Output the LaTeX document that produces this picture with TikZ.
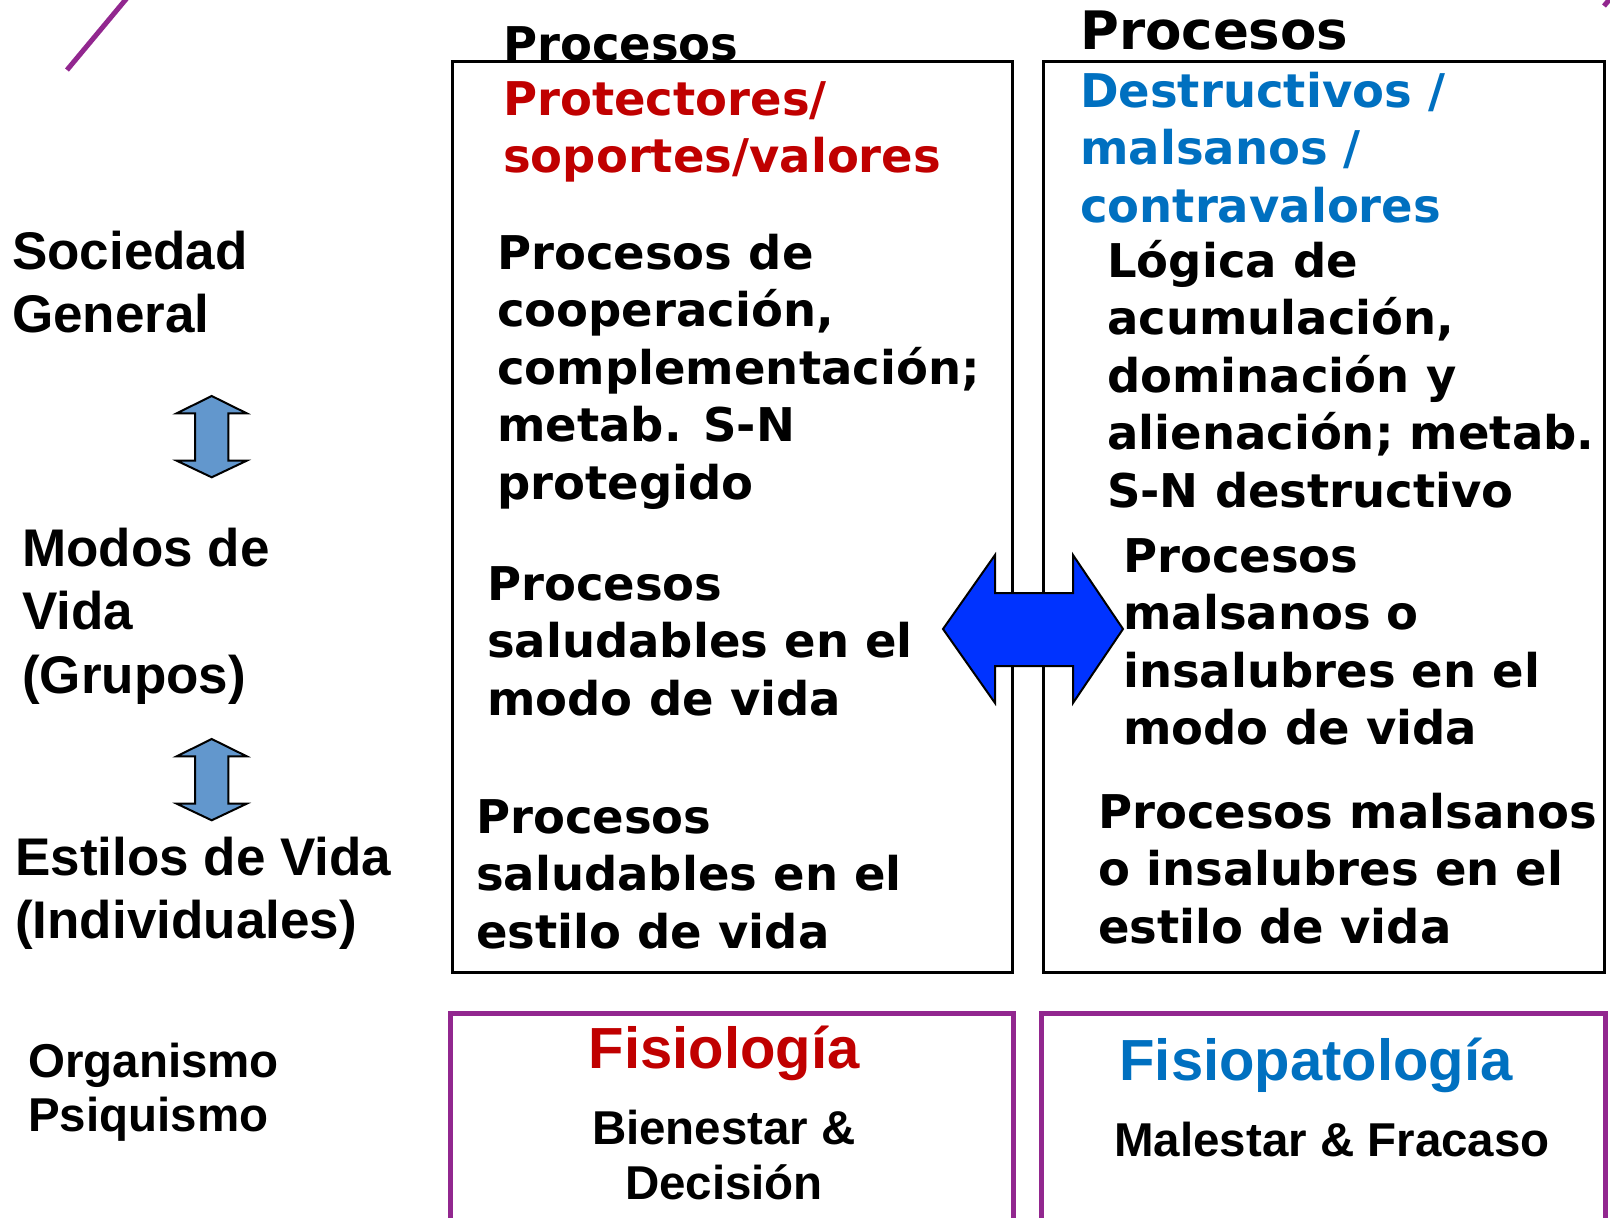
\documentclass[tikz,border=0pt]{standalone}
\usepackage{fontspec}
\setmainfont{Liberation Sans}
\newfontfamily\blackfont{DejaVu Sans}
\usetikzlibrary{positioning}

\definecolor{protred}{RGB}{192,0,0}
\definecolor{destblue}{RGB}{0,112,192}
\definecolor{framepurple}{RGB}{146,39,143}
\definecolor{arrowblue}{RGB}{0,51,255}
\definecolor{steelfill}{RGB}{98,151,205}

\begin{document}
\begin{tikzpicture}[
    x=1pt, y=-1pt,
    heavy/.style={inner sep=0pt, anchor=base west, align=left, font=\blackfont\bfseries\fontsize{46.5}{57.5}\selectfont},
    sidelabel/.style={inner sep=0pt, anchor=base west, align=left, font=\bfseries\fontsize{53}{63.5}\selectfont},
    bottomtxt/.style={inner sep=0pt, anchor=base, align=center, font=\bfseries\fontsize{47.5}{55.3}\selectfont},
    heading/.style={inner sep=0pt, anchor=base, font=\bfseries\fontsize{58}{66}\selectfont},
    procbox/.style={draw, line width=3pt},
    physbox/.style={draw=framepurple, line width=5pt},
    updown/.style={draw, line width=2pt, fill=steelfill, line join=miter},
    bigarrow/.style={draw, line width=2pt, fill=arrowblue, line join=miter}
]
\useasboundingbox (0,0) rectangle (1610,1218);

% Slide decoration
\draw[framepurple, line width=5pt] (67,70) -- (127,-2);
\draw[framepurple, line width=5pt] (1604,6) -- (1614,-6);

% Process boxes
\draw[procbox] (452,61) rectangle (1012,972);
\draw[procbox] (1043,61) rectangle (1604,972);

% Physiology boxes
\draw[physbox] (450,1013) rectangle (1013,1240);
\draw[physbox] (1041,1013) rectangle (1605,1240);

% Left labels (anchored on the last line)
\node[sidelabel] (society) at (12,332.5) {Sociedad\\General};
\node[sidelabel] (groups) at (22,693) {Modos de\\Vida\\(Grupos)};
\node[sidelabel] (styles) at (15,938.5) {Estilos de Vida\\(Individuales)};
\node[sidelabel, font=\bfseries\fontsize{47.5}{54.5}\selectfont] (organism) at (28,1131.5) {Organismo\\Psiquismo};

% Level arrows
\draw[updown] (211.7,396) -- (246.7,413.3) -- (228.3,413.3) -- (228.3,460.7) -- (246.7,460.7) -- (211.7,477.3)
    -- (176.7,460.7) -- (195,460.7) -- (195,413.3) -- (176.7,413.3) -- cycle;
\draw[updown] (211.7,739) -- (246.7,756.3) -- (228.3,756.3) -- (228.3,803.7) -- (246.7,803.7) -- (211.7,820.3)
    -- (176.7,803.7) -- (195,803.7) -- (195,756.3) -- (176.7,756.3) -- cycle;

% Protective column
\node[heavy] (protTitle) at (503,60) {Procesos};
\node[heavy, text=protred] (protKind) at (503,172.5) {Protectores/\\soportes/valores};
\node[heavy] (protSociety) at (497,499) {Procesos de\\cooperación,\\complementación;\\metab. S-N\\protegido};
\node[heavy] (protGroups) at (487,715) {Procesos\\saludables en el\\modo de vida};
\node[heavy] (protStyles) at (476,948) {Procesos\\saludables en el\\estilo de vida};

% Destructive column
\node[heavy, font=\blackfont\bfseries\fontsize{53}{57.5}\selectfont] (destTitle) at (1080,49) {Procesos};
\node[heavy, text=destblue] (destKind) at (1080,222) {Destructivos /\\malsanos /\\contravalores};
\node[heavy] (destSociety) at (1107,507) {Lógica de\\acumulación,\\dominación y\\alienación; metab.\\S-N destructivo};
\node[heavy] (destGroups) at (1123,744.5) {Procesos\\malsanos o\\insalubres en el\\modo de vida};
\node[heavy] (destStyles) at (1098,943) {Procesos malsanos\\o insalubres en el\\estilo de vida};

% Opposition arrow
\draw[bigarrow] (943,629) -- (995,555) -- (995,593) -- (1073,593) -- (1073,555) -- (1123,629)
    -- (1073,703) -- (1073,666) -- (995,666) -- (995,703) -- cycle;

% Physiology texts
\node[heading, text=protred] (physio) at (724,1068) {Fisiología};
\node[bottomtxt] (wellbeing) at (724,1199.3) {Bienestar \&\\Decisión};
\node[heading, text=destblue] (pathophysio) at (1316,1080) {Fisiopatología};
\node[bottomtxt] (malaise) at (1332,1156) {Malestar \& Fracaso};

\end{tikzpicture}
\end{document}
